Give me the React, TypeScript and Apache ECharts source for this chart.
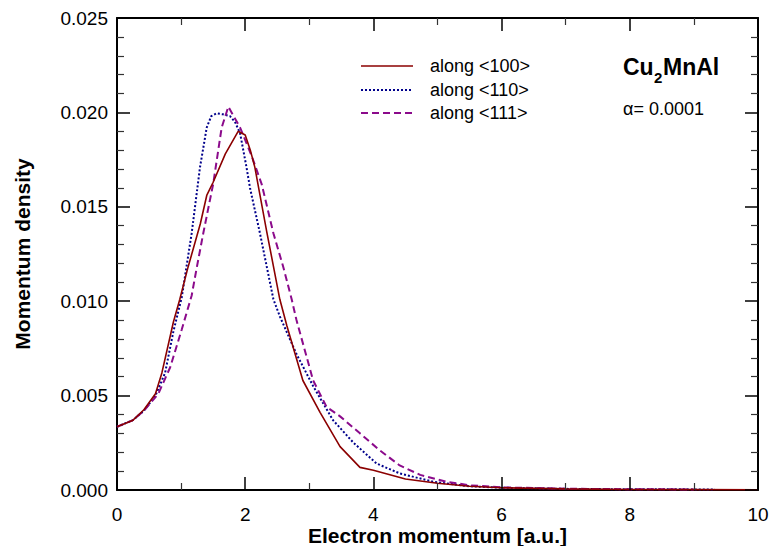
import React, { useEffect, useRef } from "react";
import * as echarts from "echarts";

const FONT = "'Liberation Sans', Arial, Helvetica, sans-serif";

const seriesNames = ["along <100>", "along <110>", "along <111>"];

const x100 = [0, 0.25, 0.42, 0.6, 0.7, 0.88, 0.98, 1.1, 1.3, 1.4, 1.5, 1.69, 1.89, 2.0, 2.08, 2.15, 2.335, 2.54, 2.65, 2.9, 3.17, 3.48, 3.79, 4.0, 4.5, 5.0, 5.5, 6.0, 7.0, 8.0, 9.0, 10.0];
const y100 = [0.00335, 0.0037, 0.00425, 0.0051, 0.0062, 0.0089, 0.0101, 0.0117, 0.0141, 0.0156, 0.0163, 0.0178, 0.019, 0.0188, 0.018, 0.0171, 0.0137, 0.0101, 0.0087, 0.0058, 0.0041, 0.0023, 0.0012, 0.00105, 0.00058, 0.00036, 0.0002, 0.00012, 0.00006, 0.00003, 0.00002, 0.00001];

const x110 = [0, 0.25, 0.42, 0.6, 0.75, 0.88, 1.01, 1.165, 1.295, 1.4, 1.47, 1.555, 1.65, 1.763, 1.84, 1.92, 2.02, 2.075, 2.23, 2.44, 2.54, 2.8, 3.06, 3.37, 3.69, 4.05, 4.41, 4.93, 5.5, 6.0, 7.0, 8.0, 9.33];
const y110 = [0.00335, 0.0037, 0.0042, 0.005, 0.0062, 0.0084, 0.0102, 0.0136, 0.0171, 0.0192, 0.0198, 0.01995, 0.0199, 0.0198, 0.0195, 0.0189, 0.0171, 0.016, 0.0136, 0.0101, 0.0092, 0.0072, 0.0055, 0.0037, 0.0025, 0.0014, 0.00088, 0.00044, 0.0002, 0.00012, 0.00006, 0.00004, 0.00003];

const x111 = [0, 0.25, 0.42, 0.645, 0.83, 1.01, 1.165, 1.24, 1.346, 1.5, 1.633, 1.737, 1.92, 2.1, 2.257, 2.44, 2.595, 2.725, 2.8, 3.06, 3.27, 3.48, 3.79, 4.1, 4.41, 4.73, 5.14, 5.5, 6.0, 7.0, 8.0, 9.0];
const y111 = [0.00335, 0.0037, 0.0042, 0.0051, 0.0065, 0.0085, 0.0103, 0.0117, 0.0136, 0.0162, 0.0192, 0.0203, 0.0192, 0.0177, 0.0162, 0.0136, 0.0118, 0.0101, 0.009, 0.0058, 0.0044, 0.0039, 0.003, 0.0021, 0.0013, 0.0008, 0.00044, 0.00025, 0.00014, 0.00007, 0.00004, 0.00003];

// tick values of the frame (major and minor)
const xMajorTicks = [0, 2, 4, 6, 8, 10];
const xMinorTicks = [1, 3, 5, 7, 9];
const yMajorTicks = [0, 0.005, 0.01, 0.015, 0.02, 0.025];
const yMinorTicks = [
  0.001, 0.002, 0.003, 0.004, 0.006, 0.007, 0.008, 0.009, 0.011, 0.012, 0.013, 0.014,
  0.016, 0.017, 0.018, 0.019, 0.021, 0.022, 0.023, 0.024,
];

const X_MIN = 0;
const X_MAX = 10;
const Y_MIN = 0;
const Y_MAX = 0.025;

const W = 771;
const H = 546;
const GRID = { left: 117, right: 13, top: 18, bottom: 56 };

const colors = ["#8b0000", "#00008b", "#8b0a8b"];
const widths = [1.6, 2, 2];
const dashes: any[] = ["solid", [2, 2], [7, 4]];

const MAJOR_LEN = 13;
const MINOR_LEN = 7;

function pairs(xs: number[], ys: number[]) {
  return xs.map((x, i) => [x, ys[i]]);
}

function frameAxis(extra: any) {
  return {
    axisLine: { show: true, onZero: false, lineStyle: { color: "#000", width: 2 } },
    splitLine: { show: false },
    axisTick: { show: false },
    minorTick: { show: false },
    ...extra,
  };
}

// tick segments expressed in data units (pixel length -> data length via the grid size)
function buildTickLines() {
  const plotW = W - GRID.left - GRID.right;
  const plotH = H - GRID.top - GRID.bottom;
  const dxPerPx = (X_MAX - X_MIN) / plotW;
  const dyPerPx = (Y_MAX - Y_MIN) / plotH;
  const lines: any[] = [];
  const seg = (a: number[], b: number[], major: boolean) =>
    lines.push([
      {
        coord: a,
        lineStyle: { color: major ? "#000" : "#333", width: major ? 1.5 : 1.2, type: "solid" },
      },
      { coord: b },
    ]);
  const xT = (vals: number[], major: boolean) =>
    vals.forEach((v) => {
      const d = (major ? MAJOR_LEN : MINOR_LEN) * dyPerPx;
      seg([v, Y_MIN], [v, Y_MIN + d], major);
      seg([v, Y_MAX], [v, Y_MAX - d], major);
    });
  const yT = (vals: number[], major: boolean) =>
    vals.forEach((v) => {
      const d = (major ? MAJOR_LEN : MINOR_LEN) * dxPerPx;
      seg([X_MIN, v], [X_MIN + d, v], major);
      seg([X_MAX, v], [X_MAX - d, v], major);
    });
  xT(xMajorTicks, true);
  xT(xMinorTicks, false);
  yT(yMajorTicks, true);
  yT(yMinorTicks, false);
  return lines;
}

export default function App() {
  const ref = useRef<HTMLDivElement>(null);
  useEffect(() => {
    if (!ref.current) return;
    const chart = echarts.init(ref.current, undefined, { renderer: "svg" });
    const legendY = [66, 90, 113];
    const graphics: any[] = [];
    seriesNames.forEach((n, i) => {
      graphics.push({
        type: "line",
        shape: { x1: 361, y1: legendY[i], x2: 413, y2: legendY[i] },
        style: {
          stroke: colors[i],
          lineWidth: widths[i],
          lineDash: Array.isArray(dashes[i]) ? dashes[i] : null,
        },
      });
      graphics.push({
        type: "text",
        x: 430,
        y: legendY[i],
        style: { text: n, font: `18px ${FONT}`, fill: "#000", verticalAlign: "middle" },
      });
    });
    graphics.push(
      { type: "text", x: 623, y: 55, style: { text: "Cu", font: `bold 23px ${FONT}`, fill: "#000" } },
      { type: "text", x: 654, y: 70, style: { text: "2", font: `bold 15px ${FONT}`, fill: "#000" } },
      { type: "text", x: 663, y: 55, style: { text: "MnAl", font: `bold 23px ${FONT}`, fill: "#000" } },
      { type: "text", x: 623, y: 100, style: { text: "α= 0.0001", font: `18px ${FONT}`, fill: "#000" } }
    );

    const option: any = {
      animation: false,
      backgroundColor: "#fff",
      textStyle: { fontFamily: FONT },
      grid: { ...GRID, containLabel: false, outerBoundsMode: "none" },
      xAxis: [
        frameAxis({
          type: "value",
          position: "bottom",
          min: X_MIN,
          max: X_MAX,
          interval: 2,
          axisLabel: { fontFamily: FONT, fontSize: 19, lineHeight: 19, color: "#000", margin: 15 },
          name: "Electron momentum [a.u.]",
          nameLocation: "middle",
          nameGap: 35,
          nameMoveOverlap: false,
          nameTextStyle: { fontFamily: FONT, fontSize: 21, lineHeight: 21, fontWeight: "bold", color: "#000" },
        }),
        frameAxis({
          type: "value",
          position: "top",
          min: X_MIN,
          max: X_MAX,
          interval: 2,
          axisLabel: { show: false },
        }),
      ],
      yAxis: [
        frameAxis({
          type: "value",
          position: "left",
          min: Y_MIN,
          max: Y_MAX,
          interval: 0.005,
          axisLabel: {
            fontFamily: FONT,
            fontSize: 19,
            color: "#000",
            margin: 9,
            formatter: (v: number) => v.toFixed(3),
          },
          name: "Momentum density",
          nameLocation: "middle",
          nameGap: 84,
          nameMoveOverlap: false,
          nameTextStyle: { fontFamily: FONT, fontSize: 21, fontWeight: "bold", color: "#000" },
        }),
        frameAxis({
          type: "value",
          position: "right",
          min: Y_MIN,
          max: Y_MAX,
          interval: 0.005,
          axisLabel: { show: false },
        }),
      ],
      series: [
        ...seriesNames.map((n, i) => ({
          name: n,
          type: "line",
          xAxisIndex: 0,
          yAxisIndex: 0,
          data: pairs([x100, x110, x111][i], [y100, y110, y111][i]),
          showSymbol: false,
          symbol: "none",
          color: colors[i],
          lineStyle: { color: colors[i], width: widths[i], type: dashes[i] },
          z: i === 0 ? 3 : 2,
        })),
        {
          name: "frame ticks",
          type: "line",
          xAxisIndex: 0,
          yAxisIndex: 0,
          data: [[X_MIN, Y_MIN]],
          symbol: "none",
          showSymbol: false,
          silent: true,
          lineStyle: { width: 0, opacity: 0 },
          z: 5,
          markLine: {
            silent: true,
            animation: false,
            symbol: ["none", "none"],
            label: { show: false },
            emphasis: { disabled: true },
            lineStyle: { color: "#000", width: 1.5, type: "solid" },
            data: buildTickLines(),
          },
        },
      ],
      graphic: graphics,
    };
    chart.setOption(option);
    return () => chart.dispose();
  }, []);
  return (
    <div
      ref={ref}
      style={{ position: "absolute", left: 0, top: 0, width: W, height: H, background: "#fff" }}
    />
  );
}
